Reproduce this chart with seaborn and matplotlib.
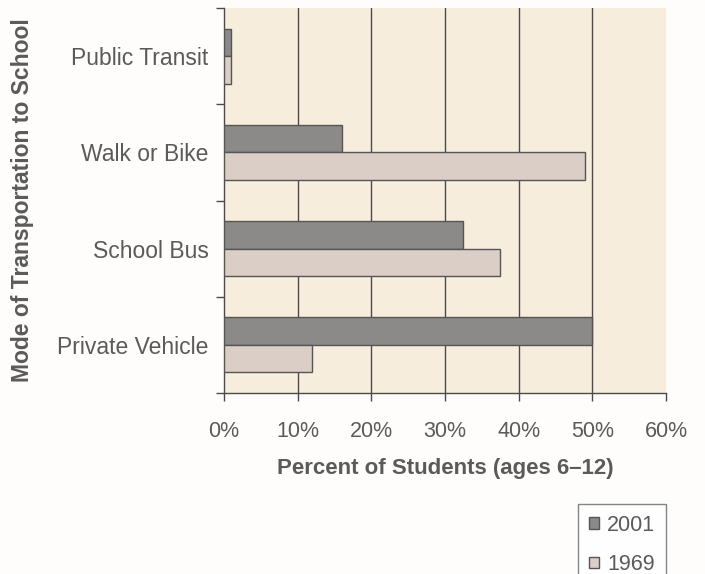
import matplotlib
matplotlib.use("Agg")
import matplotlib.pyplot as plt
from matplotlib.patches import Patch
import seaborn as sns
import pandas as pd
import numpy as np

modes = ["Public Transit", "Walk or Bike", "School Bus", "Private Vehicle"]
years = ["2001", "1969"]
pct_2001 = [1, 16, 32.5, 50]
pct_1969 = [1, 49, 37.5, 12]
x_ticks = [0, 10, 20, 30, 40, 50, 60]
x_tick_labels = ["0%", "10%", "20%", "30%", "40%", "50%", "60%"]

df = pd.DataFrame({
    "mode": modes * 2,
    "year": [years[0]] * len(modes) + [years[1]] * len(modes),
    "pct": pct_2001 + pct_1969,
})

sns.set_theme(style="white")
plt.rcParams["font.family"] = ["Liberation Sans", "DejaVu Sans"]

text_col = "#5a5a5a"
line_col = "#4a4a4a"
bar_colors = {"2001": "#8b8a88", "1969": "#dacec6"}
fs = 15.5

fig = plt.figure(figsize=(7.05, 5.74), dpi=100)
fig.patch.set_facecolor("#fefdfb")
ax = fig.add_axes([224 / 705, 1 - 393 / 574, (666 - 224) / 705, (393 - 8) / 574])
ax.set_facecolor("#f7eddc")

sns.barplot(data=df, y="mode", x="pct", hue="year", order=modes,
            hue_order=years, palette=bar_colors, orient="h",
            width=0.57, gap=0, edgecolor="#555555", linewidth=1.0,
            saturation=1, ax=ax, legend=False, zorder=3)

# vertical grid lines
for v in x_ticks[1:-1]:
    ax.axvline(v, color=line_col, lw=1.0, zorder=1)

ax.set_xlim(0, 60)
ax.set_ylim(len(modes) - 0.5, -0.5)
ax.set_xticks(x_ticks)
ax.set_xticklabels(x_tick_labels)

# category labels centred, tick marks at category boundaries
ax.set_yticks(range(len(modes)))
ax.set_yticklabels(modes)
ax.set_yticks(np.arange(-0.5, len(modes), 1.0), minor=True)
ax.tick_params(axis="y", which="major", length=0, pad=11,
               labelsize=16.5, labelcolor=text_col)
ax.tick_params(axis="y", which="minor", length=6, width=1, color=line_col,
               direction="out", left=True)
ax.tick_params(axis="x", which="major", length=6, width=1, color=line_col,
               direction="out", bottom=True, pad=14,
               labelsize=fs, labelcolor=text_col)

for s in ["top", "right"]:
    ax.spines[s].set_visible(False)
for s in ["left", "bottom"]:
    ax.spines[s].set_color(line_col)
    ax.spines[s].set_linewidth(1.0)

ax.set_xlabel("Percent of Students (ages 6\u201312)", fontsize=16,
              fontweight="bold", color=text_col, labelpad=12)
ax.set_ylabel("Mode of Transportation to School", fontsize=16.5,
              fontweight="bold", color=text_col)
ax.yaxis.set_label_coords(-0.43, 0.5)

handles = [Patch(facecolor=bar_colors[y], edgecolor="#555555", lw=1.0, label=y)
           for y in years]
leg = fig.legend(handles=handles, loc="upper right",
                 bbox_to_anchor=(666 / 705, 1 - 504 / 574),
                 frameon=True, fancybox=False, fontsize=fs,
                 handlelength=0.45, handleheight=0.45, handletextpad=0.4,
                 borderpad=0.5, labelspacing=0.85, borderaxespad=0)
leg.get_frame().set_edgecolor("#666666")
leg.get_frame().set_linewidth(1.0)
leg.get_frame().set_facecolor("#ffffff")
for t in leg.get_texts():
    t.set_color(text_col)

fig.savefig("out.png", dpi=100, facecolor=fig.get_facecolor())
